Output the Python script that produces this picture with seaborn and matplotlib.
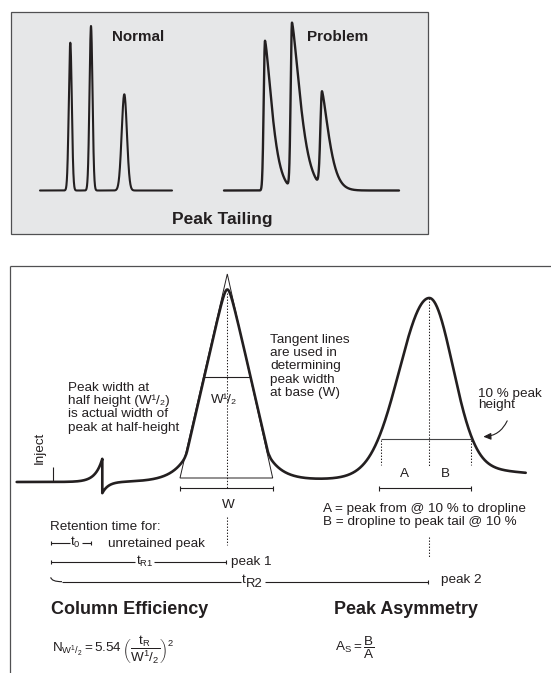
import numpy as np
import matplotlib
matplotlib.use("Agg")
import matplotlib.pyplot as plt
import seaborn as sns
from matplotlib.patches import Rectangle, FancyArrowPatch, PathPatch, Polygon
from matplotlib.path import Path

# ------------------------------------------------------------------
# DATA (in its pixel frame)
# ------------------------------------------------------------------
# --- top panel: "Peak Tailing" ---
top_baseline = 190.5
normal_span = [40.0, 172.0]
normal_centers = [70.3, 91.0, 124.3]
normal_tops = [42.7, 26.0, 94.3]
normal_sigmas = [1.5, 1.5, 2.6]

problem_span = [224.0, 399.0]
problem_centers = [265.0, 292.0, 322.0]
problem_tops = [40.7, 25.3, 95.7]
problem_lead = [1.3, 1.3, 1.6]       # width of the steep front
problem_tail = [10.0, 12.0, 10.2]    # length of the tail

# --- lower panel: chromatogram ---
low_baseline = 482.0
trace_span = [16.7, 525.7]
inject_x = 53.3
inject_top = 466.7
unretained_x = 102.3
unretained_up = 23.0
unretained_down = 11.3
unretained_decay = [7.0, 6.0]

peak1_center = 227.3
peak1_top = 290.0
peak1_foot_height = 25.0   # where the trace leaves the tangent lines
peak1_foot_decay = 15.0

peak2_center = 429.3
peak2_top = 298.0
peak2_sigmas = [28.5, 22.5]
peak2_feet = [[0.08, 60.0], [0.12, 110.0]]

tangent_apex = [227.3, 274.0]
tangent_base = [180.0, 272.7, 478.0]
half_height = [203.3, 250.0, 377.3]
ten_percent = [380.7, 470.7, 438.7]

INK = "#231f20"
BOX = "#505052"

sns.set_theme(style="white")
plt.rcParams["font.family"] = ["Liberation Sans", "DejaVu Sans"]
plt.rcParams["mathtext.fontset"] = "custom"
plt.rcParams["mathtext.rm"] = "Liberation Sans"
plt.rcParams["mathtext.it"] = "Liberation Sans:italic"
plt.rcParams["mathtext.bf"] = "Liberation Sans:bold"

fig = plt.figure(figsize=(5.51, 6.73), dpi=100)
ax = fig.add_axes([0, 0, 1, 1])
ax.set_xlim(0, 551)
ax.set_ylim(673, 0)
ax.set_axis_off()


def curve(xs, ys, lw, color=INK):
    sns.lineplot(x=xs, y=ys, ax=ax, color=color, lw=lw, sort=False,
                 estimator=None, solid_capstyle="round", solid_joinstyle="round")


def line(xs, ys, lw=0.75, color=INK, ls="-"):
    ax.plot(xs, ys, color=color, lw=lw, ls=ls, solid_capstyle="butt")


def text(x, y, s, size=9.7, ha="left", va="baseline", weight="normal", **kw):
    ax.text(x, y, s, fontsize=size, ha=ha, va=va, weight=weight, color=INK, **kw)


# ---------------- top panel ----------------
ax.add_patch(Rectangle((10.7, 11.7), 417.0, 222.3, facecolor="#e6e7e8",
                       edgecolor=BOX, lw=0.9, zorder=0))

xs = np.linspace(normal_span[0], normal_span[1], 2000)
h = np.zeros_like(xs)
for c, t, s in zip(normal_centers, normal_tops, normal_sigmas):
    h += (top_baseline - t) * np.exp(-(xs - c) ** 2 / (2 * s ** 2))
curve(xs, top_baseline - h, 1.5)

xs = np.linspace(problem_span[0], problem_span[1], 3000)
h = np.zeros_like(xs)
for c, t, lead, tail in zip(problem_centers, problem_tops, problem_lead, problem_tail):
    H = top_baseline - t
    d = xs - c
    front = np.exp(-d ** 2 / (2 * lead ** 2))
    back = np.exp(-(np.clip(d, 0, None) / tail) ** 1.4)
    h += H * np.where(d < 0, front, back)
curve(xs, top_baseline - h, 1.7)

text(138.0, 41.0, "Normal", size=10.9, ha="center", weight="bold")
text(337.7, 41.0, "Problem", size=11.0, ha="center", weight="bold")
text(222.7, 224.0, "Peak Tailing", size=12.5, ha="center", weight="bold")

# ---------------- lower panel frame ----------------
line([10.0, 551.0], [266.0, 266.0], lw=0.9, color=BOX)
line([10.0, 10.0], [266.0, 673.0], lw=0.9, color=BOX)

# ---------------- chromatogram trace ----------------
xs = np.linspace(trace_span[0], trace_span[1], 6000)
xs = np.sort(np.concatenate([xs, [unretained_x, unretained_x + 1e-3]]))
d0 = xs - unretained_x
spike = np.where(d0 <= 0,
                 unretained_up * np.exp(np.clip(d0, None, 0) / unretained_decay[0]),
                 -unretained_down * np.exp(-np.clip(d0, 0, None) / unretained_decay[1]))

# peak 1: follows the tangent lines, rounded top, flared feet
d1 = np.abs(xs - peak1_center)
A1 = low_baseline - tangent_apex[1]
slope = (tangent_base[2] - tangent_apex[1]) / ((tangent_base[1] - tangent_base[0]) / 2)
eps = (A1 - (low_baseline - peak1_top)) / slope
tri = A1 - slope * np.sqrt(d1 ** 2 + eps ** 2)
d_leave = (A1 - peak1_foot_height) / slope
foot = peak1_foot_height * np.exp(-np.clip(d1 - d_leave, 0, None) / peak1_foot_decay)
T = 2.5
p1 = T * np.logaddexp(tri / T, foot / T)
p1 = np.clip(p1, 0, None)

d2 = xs - peak2_center
H2 = low_baseline - peak2_top
sig = np.where(d2 < 0, peak2_sigmas[0], peak2_sigmas[1])
w = np.where(d2 < 0, peak2_feet[0][0], peak2_feet[1][0])
lam = np.where(d2 < 0, peak2_feet[0][1], peak2_feet[1][1])
p2 = H2 * (np.exp(-d2 ** 2 / (2 * sig ** 2))
           + w * (1 - np.exp(-d2 ** 2 / 800.0)) * np.exp(-np.abs(d2) / lam))

curve(xs, low_baseline - (spike + p1 + p2), 1.9)

# inject marker
line([inject_x, inject_x], [low_baseline, inject_top], lw=0.8)
text(40.0, 447.5, "Inject", ha="center", va="center", rotation=90)

# tangent triangle and half height
ax.add_patch(Polygon([[tangent_base[0], tangent_base[2]], tangent_apex,
                      [tangent_base[1], tangent_base[2]]], closed=True,
                     fill=False, edgecolor=INK, lw=0.7))
line([half_height[0], half_height[1]], [half_height[2]] * 2, lw=0.8)

DOT = (0, (1.3, 1.6))
line([peak1_center] * 2, [293.0, 488.0], lw=0.75, ls=DOT)
line([peak1_center] * 2, [516.7, 545.0], lw=0.75, ls=DOT)


def bracket(x0, x1, y, tick=2.6):
    line([x0, x1], [y, y], lw=0.8)
    line([x0, x0], [y - tick, y + tick], lw=0.8)
    line([x1, x1], [y - tick, y + tick], lw=0.8)


bracket(tangent_base[0], tangent_base[1], 488.3)
text(228.7, 508.3, "W", ha="center")
text(224.0, 403.3, "W¹/₂", ha="center")

# peak 2 annotations
line([ten_percent[0], ten_percent[1]], [ten_percent[2]] * 2, lw=0.8, color="#444446")
line([peak2_center] * 2, [298.0, 466.7], lw=0.75, ls=DOT)
line([peak2_center] * 2, [536.7, 557.3], lw=0.75, ls=DOT)
line([ten_percent[0]] * 2, [440.0, 465.0], lw=0.75, ls=DOT)
line([ten_percent[1]] * 2, [440.0, 465.0], lw=0.75, ls=DOT)
bracket(379.0, 471.0, 488.3)
text(404.3, 476.7, "A", ha="center")
text(445.0, 476.7, "B", ha="center")

arrow = FancyArrowPatch((508.3, 418.3), (480.5, 436.7),
                        connectionstyle="arc3,rad=-0.35",
                        arrowstyle="-|>,head_length=4.5,head_width=2.0",
                        mutation_scale=1, lw=0.8, color=INK)
ax.add_patch(arrow)
text(478.3, 396.7, "10 % peak")
text(478.3, 408.3, "height")

# explanatory blocks
for i, s in enumerate(["Peak width at", "half height (W¹/₂)",
                       "is actual width of", "peak at half-height"]):
    text(67.7, 390.7 + 13.33 * i, s)
for i, s in enumerate(["Tangent lines", "are used in", "determining",
                       "peak width", "at base (W)"]):
    text(270.0, 342.7 + 13.33 * i, s)

text(323.3, 512.3, "A = peak from @ 10 % to dropline")
text(323.3, 525.0, "B = dropline to peak tail @ 10 %")

# retention times
text(50.0, 530.0, "Retention time for:")
# t0
line([50.7, 69.5], [543.3] * 2, lw=0.8)
line([82.0, 91.0], [543.3] * 2, lw=0.8)
line([50.7] * 2, [541.3, 545.3], lw=0.8)
line([91.0] * 2, [541.3, 545.3], lw=0.8)
text(75.8, 546.0, r"$\mathregular{t_0}$", ha="center")
text(107.7, 547.3, "unretained peak")
# tR1
line([50.7, 134.5], [561.7] * 2, lw=0.8)
line([154.0, 225.7], [561.7] * 2, lw=0.8)
line([50.7] * 2, [559.7, 563.7], lw=0.8)
line([225.7] * 2, [559.7, 563.7], lw=0.8)
text(144.5, 564.5, r"$\mathregular{t_{R1}}$", ha="center")
text(231.0, 565.0, "peak 1")
# tR2
ax.add_patch(PathPatch(Path([(50.7, 577.3), (51.5, 581.7), (62.0, 581.7)],
                            [Path.MOVETO, Path.CURVE3, Path.CURVE3]),
                       fill=False, edgecolor=INK, lw=0.8))
line([62.0, 240.5], [581.7] * 2, lw=0.8)
line([265.0, 427.7], [581.7] * 2, lw=0.8)
line([427.7] * 2, [579.7, 583.7], lw=0.8)
text(241.7, 582.8, "t")
text(246.0, 587.3, "R2", size=9.4)
text(441.0, 583.3, "peak 2")

# headings and formulas
text(51.0, 614.0, "Column Efficiency", size=13.0, weight="bold")
text(334.3, 614.0, "Peak Asymmetry", size=12.9, weight="bold")
text(51.7, 651.7,
     r"$\mathregular{N_{W^1/_2} = 5.54\,\left(\dfrac{t_R}{W^1/_2}\right)^2}$",
     size=9.7)
text(335.0, 651.7, r"$\mathregular{A_S = \dfrac{B}{A}}$", size=9.7)

fig.savefig("out.png", dpi=100)
